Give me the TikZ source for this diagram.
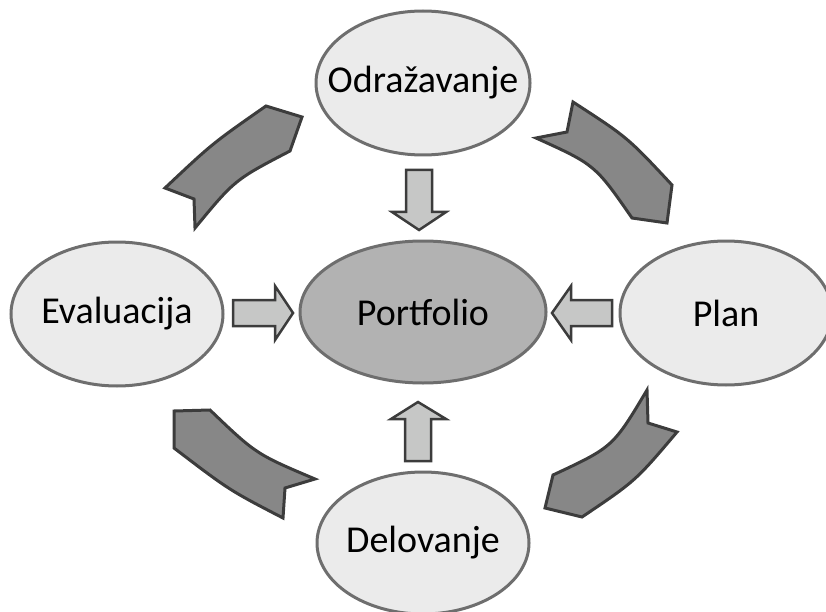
\documentclass[tikz,border=0pt]{standalone}
\usepackage{fontspec}
\setmainfont{Carlito}
\usetikzlibrary{shapes.geometric}
\definecolor{ellfill}{HTML}{EBEBEB}
\definecolor{ellline}{HTML}{6E6E6E}
\definecolor{portfill}{HTML}{B2B2B2}
\definecolor{blockfill}{HTML}{C6C7C6}
\definecolor{curvefill}{HTML}{878787}
\definecolor{darkline}{HTML}{3C3C3C}
\newcommand{\ztext}[1]{\makebox[0pt][c]{#1}}
\tikzset{
  stage/.style={ellipse, draw=ellline, fill=ellfill, line width=3pt, inner sep=0pt,
    font=\fontsize{38}{42}\selectfont},
  hub/.style={stage, fill=portfill},
  blockarrow/.style={draw=darkline, fill=blockfill, line width=2.5pt, line join=miter},
  curvearrow/.style={draw=darkline, fill=curvefill, line width=3pt, line join=miter}
}
\begin{document}
\begin{tikzpicture}[x=1pt,y=-1pt]
\useasboundingbox (0,0) rectangle (826,612);
% ellipses
\node[stage, minimum width=214pt, minimum height=144pt] (odr) at (423,83) {\ztext{Odražavanje}};
\node[stage, minimum width=212pt, minimum height=144pt] (eva) at (117,314) {\ztext{Evaluacija}};
\node[stage, minimum width=212pt, minimum height=144pt] (plan) at (726,313) {\ztext{Plan}};
\node[stage, minimum width=212pt, minimum height=142pt] (del) at (423,543) {\ztext{Delovanje}};
\node[hub, minimum width=246pt, minimum height=142pt] (port) at (423,312) {\ztext{Portfolio}};
% block arrows
\draw[blockarrow] (406,170) -- (432,170) -- (432,212) -- (446,212) -- (419,230) -- (392,212) -- (406,212) -- cycle;
\draw[blockarrow] (405,461) -- (431,461) -- (431,419) -- (446,419) -- (418,402) -- (391,419) -- (405,419) -- cycle;
\draw[blockarrow] (233,300) -- (275,300) -- (275,286) -- (293,313) -- (275,340) -- (275,326) -- (233,326) -- cycle;
\draw[blockarrow] (612,300) -- (571,300) -- (571,286) -- (552,313) -- (571,340) -- (571,326) -- (612,326) -- cycle;
% curved arrows
\draw[curvearrow] (165,188) -- (194,199) -- (195,228) .. controls (234.7,179.8) .. (290,151) -- (302,117) -- (266,106) .. controls (212.5,143.3) .. (165,188) -- cycle;
\draw[curvearrow] (573,102) -- (567,132) -- (536,138) .. controls (595,164.7) .. (632,218) -- (667,223) -- (672,185) .. controls (627.6,137.4) .. (573,102) -- cycle;
\draw[curvearrow] (647,390) -- (648,423) -- (677,432) .. controls (635.5,481) .. (582,517) -- (545,508) -- (553,475) .. controls (613,447) .. (647,390) -- cycle;
\draw[curvearrow] (315,479) -- (285,488) -- (283,518) .. controls (229,490) .. (174,448) -- (174,411) -- (210,410) .. controls (256,454) .. (315,479) -- cycle;
\end{tikzpicture}
\end{document}
